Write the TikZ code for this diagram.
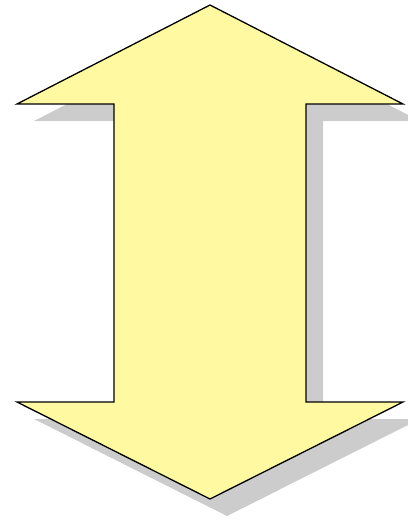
\documentclass[tikz,border=0pt]{standalone}
\usepackage{xcolor}
\definecolor{arrowyellow}{RGB}{255,250,162}
\definecolor{shadowgray}{RGB}{204,204,204}
\newcommand{\dblarrow}{(210,5) -- (403,104) -- (306,104) -- (306,402) -- (403,402) -- (210,499) -- (17,402) -- (114,402) -- (114,104) -- (17,104) -- cycle}

\begin{document}
\begin{tikzpicture}[x=1pt,y=-1pt,
  arrowbody/.style={draw=black,line width=1.3pt,line join=miter,fill=arrowyellow},
  arrowshadow/.style={fill=shadowgray}]
\useasboundingbox (0,0) rectangle (407,522);
% shadow first, then the arrow on top
\begin{scope}[shift={(17,17)}]
\fill[arrowshadow] \dblarrow;
\end{scope}
\draw[arrowbody] \dblarrow;
\end{tikzpicture}
\end{document}
